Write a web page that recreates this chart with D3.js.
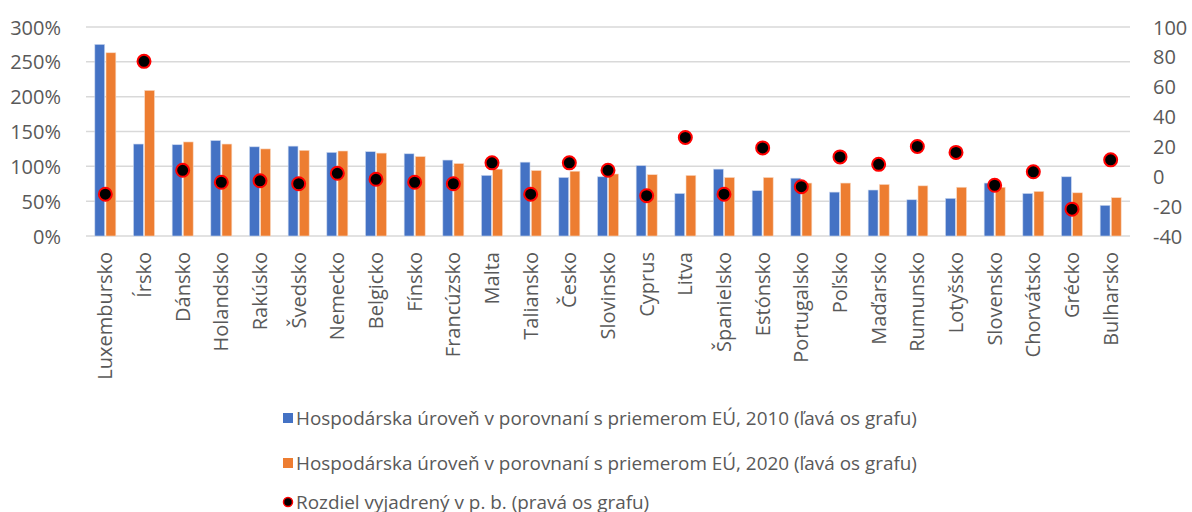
<!DOCTYPE html>
<meta charset="utf-8">
<script src="https://cdn.jsdelivr.net/npm/d3@7/dist/d3.min.js"></script>
<style>
    body { margin: 0; background: #fff; }
    text { font-family: "Open Sans", sans-serif; fill: #595959; }
</style>
<svg width="1192" height="512"></svg>
<script>
    // data
    var countries = ["Luxembursko", "Írsko", "Dánsko", "Holandsko", "Rakúsko", "Švedsko", "Nemecko", "Belgicko",
        "Fínsko", "Francúzsko", "Malta", "Taliansko", "Česko", "Slovinsko", "Cyprus", "Litva", "Španielsko",
        "Estónsko", "Portugalsko", "Poľsko", "Maďarsko", "Rumunsko", "Lotyšsko", "Slovensko", "Chorvátsko",
        "Grécko", "Bulharsko"];
    var level2010 = [275, 132, 131, 137, 128, 129, 120, 121, 118, 109, 87, 106, 84, 85, 101, 61, 96, 65, 83, 63, 66, 52, 54, 76, 61, 85, 44];
    var level2020 = [263, 209, 135, 132, 125, 123, 122, 119, 114, 104, 96, 94, 93, 89, 88, 87, 84, 84, 76, 76, 74, 72, 70, 70, 64, 62, 55];
    var diff = [-12, 77, 4, -4, -3, -5, 2, -2, -4, -5, 9, -12, 9, 4, -13, 26, -12, 19, -7, 13, 8, 20, 16, -6, 3, -22, 11];
    var leftTicks = [0, 50, 100, 150, 200, 250, 300];
    var rightTicks = [-40, -20, 0, 20, 40, 60, 80, 100];
    var legendLabels = [
        "Hospodárska úroveň v porovnaní s priemerom EÚ, 2010 (ľavá os grafu)",
        "Hospodárska úroveň v porovnaní s priemerom EÚ, 2020 (ľavá os grafu)",
        "Rozdiel vyjadrený v p. b. (pravá os grafu)"
    ];

    var svg = d3.select("svg");
    var plotLeft = 86, plotRight = 1130, plotTop = 27, plotBottom = 236;

    var x = d3.scaleBand().domain(countries).range([plotLeft, plotRight]);
    var inner = d3.scaleBand().domain(["a", "b"]).range([0, 21]).paddingInner(0.12);
    var yL = d3.scaleLinear().domain([0, 300]).range([plotBottom, plotTop]);
    var yR = d3.scaleLinear().domain([-40, 100]).range([plotBottom, plotTop]);

    // gridlines
    svg.append("g").selectAll("line")
        .data(leftTicks)
        .enter().append("line")
        .attr("x1", plotLeft).attr("x2", plotRight)
        .attr("y1", function (d) { return yL(d); })
        .attr("y2", function (d) { return yL(d); })
        .attr("stroke", "#d9d9d9")
        .attr("stroke-width", 1.5);

    // left axis
    var axL = svg.append("g")
        .attr("transform", "translate(" + (plotLeft - 22) + ",0)")
        .call(d3.axisLeft(yL).tickValues(leftTicks).tickSize(0).tickFormat(function (d) { return d + "%"; }));
    axL.select(".domain").remove();
    axL.selectAll("text").style("font-size", "20px").attr("fill", "#595959").attr("dy", "0.35em");

    // right axis (plain hyphen for negatives, like the original)
    var axR = svg.append("g")
        .attr("transform", "translate(" + (plotRight + 20) + ",0)")
        .call(d3.axisRight(yR).tickValues(rightTicks).tickSize(0).tickFormat(function (d) { return String(d); }));
    axR.select(".domain").remove();
    axR.selectAll("text").style("font-size", "20px").attr("fill", "#595959").attr("dy", "0.35em");

    // bars
    var groups = svg.append("g").selectAll("g")
        .data(countries)
        .enter().append("g")
        .attr("transform", function (d) { return "translate(" + (x(d) + x.bandwidth() / 2 - 10.5) + ",0)"; });

    groups.append("rect")
        .attr("x", inner("a"))
        .attr("width", inner.bandwidth())
        .attr("y", function (d, i) { return yL(level2010[i]); })
        .attr("height", function (d, i) { return plotBottom - yL(level2010[i]); })
        .attr("fill", "#4472c4")
        .attr("stroke", "#c9d6ee")
        .attr("stroke-width", 0.6);

    groups.append("rect")
        .attr("x", inner("b"))
        .attr("width", inner.bandwidth())
        .attr("y", function (d, i) { return yL(level2020[i]); })
        .attr("height", function (d, i) { return plotBottom - yL(level2020[i]); })
        .attr("fill", "#ed7d31")
        .attr("stroke", "#f8d9c4")
        .attr("stroke-width", 0.6);

    // dots
    svg.append("g").selectAll("circle")
        .data(countries)
        .enter().append("circle")
        .attr("cx", function (d) { return x(d) + x.bandwidth() / 2; })
        .attr("cy", function (d, i) { return yR(diff[i]); })
        .attr("r", 6.5)
        .attr("fill", "#000")
        .attr("stroke", "#ff0000")
        .attr("stroke-width", 2);

    // category labels
    svg.append("g").selectAll("text")
        .data(countries)
        .enter().append("text")
        .attr("transform", function (d) { return "translate(" + (x(d) + x.bandwidth() / 2) + ",252) rotate(-90)"; })
        .attr("text-anchor", "end")
        .attr("dy", "0.35em")
        .style("font-size", "20px")
        .text(function (d) { return d; });

    // legend
    var legend = svg.append("g");
    var rowY = [418, 463, 502];
    legend.append("rect").attr("x", 283).attr("y", rowY[0] - 5).attr("width", 10).attr("height", 10).attr("fill", "#4472c4");
    legend.append("rect").attr("x", 283).attr("y", rowY[1] - 5).attr("width", 10).attr("height", 10).attr("fill", "#ed7d31");
    legend.append("circle").attr("cx", 288).attr("cy", rowY[2]).attr("r", 4.5)
        .attr("fill", "#000").attr("stroke", "#ff0000").attr("stroke-width", 1.5);

    legend.selectAll("text.lg")
        .data(legendLabels)
        .enter().append("text")
        .attr("class", "lg")
        .attr("x", 296)
        .attr("y", function (d, i) { return rowY[i]; })
        .attr("dy", "0.35em")
        .style("font-size", "18.9px")
        .text(function (d) { return d; });
</script>
